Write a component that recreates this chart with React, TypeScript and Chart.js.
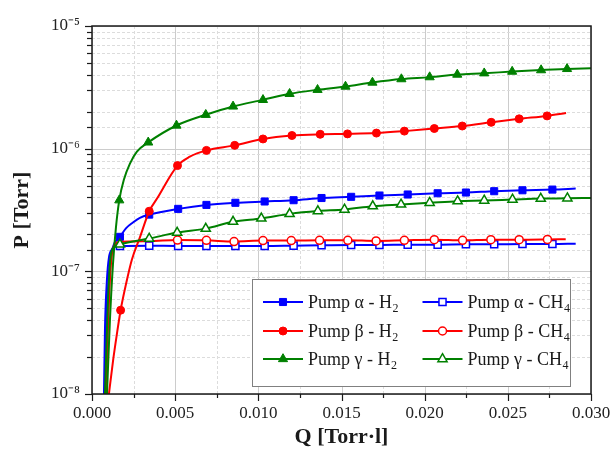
import React, { useEffect, useRef } from 'react';
import { Chart, registerables } from 'chart.js';

Chart.register(...registerables);

const FONT = '"Liberation Serif", "Times New Roman", serif';

// ---- axes ----
const X_MIN = 0;
const X_MAX = 0.03;
const X_STEP = 0.0025;
const Y_MIN = 1e-8;
const Y_MAX = 1e-5;
const X_TITLE = 'Q [Torr·l]';
const Y_TITLE = 'P [Torr]';

// ---- legend labels ----
const labelBase = ['Pump α - H', 'Pump α - CH', 'Pump β - H', 'Pump β - CH', 'Pump γ - H', 'Pump γ - CH'];
const labelSub = ['2', '4', '2', '4', '2', '4'];

// ---- Pump α - H2 ----
const alphaH2LineQ = [0.00078, 0.00084, 0.00096, 0.00108, 0.00132, 0.00204, 0.00246, 0.00288, 0.02908];
const alphaH2LineP = [1.0e-8, 3.4e-8, 7.2e-8, 1.2e-7, 1.66e-7, 2.24e-7, 2.5e-7, 2.73e-7, 4.73e-7];
const alphaH2MarkQ = [0.00168, 0.00344, 0.00518, 0.00688, 0.00862, 0.01038, 0.01212, 0.0138, 0.01558, 0.01728, 0.01898, 0.02078, 0.02248, 0.02418, 0.02588, 0.02768];
const alphaH2MarkP = [1.91e-7, 2.9e-7, 3.23e-7, 3.48e-7, 3.62e-7, 3.71e-7, 3.8e-7, 3.96e-7, 4.05e-7, 4.15e-7, 4.23e-7, 4.33e-7, 4.39e-7, 4.5e-7, 4.58e-7, 4.64e-7];

// ---- Pump α - CH4 ----
const alphaCH4LineQ = [0.00072, 0.00078, 0.0009, 0.00102, 0.0012, 0.00144, 0.02908];
const alphaCH4LineP = [1.0e-8, 3.4e-8, 8.6e-8, 1.3e-7, 1.51e-7, 1.6e-7, 1.68e-7];
const alphaCH4MarkQ = [0.00168, 0.00344, 0.00518, 0.00688, 0.00862, 0.01038, 0.01212, 0.0138, 0.01558, 0.01728, 0.01898, 0.02078, 0.02248, 0.02418, 0.02588, 0.02768];
const alphaCH4MarkP = [1.61e-7, 1.62e-7, 1.61e-7, 1.61e-7, 1.61e-7, 1.61e-7, 1.62e-7, 1.63e-7, 1.64e-7, 1.64e-7, 1.65e-7, 1.65e-7, 1.66e-7, 1.66e-7, 1.67e-7, 1.67e-7];

// ---- Pump β - H2 ----
const betaH2LineQ = [0.00098, 0.00128, 0.00148, 0.00204, 0.0024, 0.00288, 0.0039, 0.00588, 0.0285];
const betaH2LineP = [9.1e-9, 1.93e-8, 2.98e-8, 7.83e-8, 1.25e-7, 1.89e-7, 3.9e-7, 8.6e-7, 1.95e-6];
const betaH2MarkQ = [0.00172, 0.00344, 0.00514, 0.00688, 0.00858, 0.01028, 0.01202, 0.01372, 0.01536, 0.0171, 0.01878, 0.02058, 0.02226, 0.024, 0.02568, 0.02736];
const betaH2MarkP = [4.82e-8, 3.09e-7, 7.28e-7, 9.68e-7, 1.064e-6, 1.2e-6, 1.28e-6, 1.31e-6, 1.32e-6, 1.34e-6, 1.39e-6, 1.46e-6, 1.53e-6, 1.64e-6, 1.75e-6, 1.85e-6];

// ---- Pump β - CH4 ----
const betaCH4LineQ = [0.00084, 0.00096, 0.00108, 0.0012, 0.00138, 0.00168, 0.00342, 0.02848];
const betaCH4LineP = [1.0e-8, 3.4e-8, 8.6e-8, 1.38e-7, 1.66e-7, 1.74e-7, 1.76e-7, 1.83e-7];
const betaCH4MarkQ = [0.00514, 0.00688, 0.00854, 0.01028, 0.01198, 0.01368, 0.01538, 0.01708, 0.01878, 0.02058, 0.02228, 0.02398, 0.02568, 0.02738];
const betaCH4MarkP = [1.8e-7, 1.79e-7, 1.75e-7, 1.78e-7, 1.78e-7, 1.79e-7, 1.79e-7, 1.77e-7, 1.79e-7, 1.81e-7, 1.79e-7, 1.81e-7, 1.81e-7, 1.82e-7];

// ---- Pump γ - H2 ----
const gammaH2LineQ = [0.0009, 0.00108, 0.00126, 0.00144, 0.00192, 0.00228, 0.0027, 0.03];
const gammaH2LineP = [1.0e-8, 4.07e-8, 1.14e-7, 2.28e-7, 5.6e-7, 7.55e-7, 9.46e-7, 4.53e-6];
const gammaH2MarkQ = [0.00164, 0.00338, 0.00508, 0.00684, 0.00848, 0.01028, 0.01188, 0.01356, 0.01524, 0.01686, 0.0186, 0.0203, 0.02196, 0.02358, 0.02526, 0.027, 0.02856];
const gammaH2MarkP = [3.8e-7, 1.125e-6, 1.545e-6, 1.89e-6, 2.21e-6, 2.5e-6, 2.8e-6, 3.02e-6, 3.21e-6, 3.46e-6, 3.69e-6, 3.83e-6, 4.02e-6, 4.12e-6, 4.25e-6, 4.37e-6, 4.47e-6];

// ---- Pump γ - CH4 ----
const gammaCH4LineQ = [0.00078, 0.0009, 0.00102, 0.00114, 0.00138, 0.03];
const gammaCH4LineP = [1.0e-8, 3.4e-8, 8.6e-8, 1.38e-7, 1.6e-7, 3.97e-7];
const gammaCH4MarkQ = [0.00168, 0.00344, 0.00512, 0.00684, 0.00848, 0.01018, 0.01188, 0.01358, 0.01518, 0.01688, 0.01858, 0.0203, 0.02198, 0.02358, 0.02528, 0.02698, 0.02858];
const gammaCH4MarkP = [1.66e-7, 1.85e-7, 2.07e-7, 2.23e-7, 2.54e-7, 2.7e-7, 2.94e-7, 3.1e-7, 3.19e-7, 3.4e-7, 3.51e-7, 3.62e-7, 3.73e-7, 3.78e-7, 3.85e-7, 3.92e-7, 3.94e-7];

// ---- styles ----
const BLUE = '#0000ff';
const RED = '#ff0000';
const GREEN = '#008000';

type Series = {
  lineQ: number[]; lineP: number[]; markQ: number[]; markP: number[];
  color: string; style: 'rect' | 'circle' | 'triangle'; filled: boolean; radius: number;
};

const SERIES: Series[] = [
  { lineQ: alphaH2LineQ, lineP: alphaH2LineP, markQ: alphaH2MarkQ, markP: alphaH2MarkP, color: BLUE, style: 'rect', filled: true, radius: 5 },
  { lineQ: alphaCH4LineQ, lineP: alphaCH4LineP, markQ: alphaCH4MarkQ, markP: alphaCH4MarkP, color: BLUE, style: 'rect', filled: false, radius: 5 },
  { lineQ: betaH2LineQ, lineP: betaH2LineP, markQ: betaH2MarkQ, markP: betaH2MarkP, color: RED, style: 'circle', filled: true, radius: 4 },
  { lineQ: betaCH4LineQ, lineP: betaCH4LineP, markQ: betaCH4MarkQ, markP: betaCH4MarkP, color: RED, style: 'circle', filled: false, radius: 4 },
  { lineQ: gammaH2LineQ, lineP: gammaH2LineP, markQ: gammaH2MarkQ, markP: gammaH2MarkP, color: GREEN, style: 'triangle', filled: true, radius: 5.3 },
  { lineQ: gammaCH4LineQ, lineP: gammaCH4LineP, markQ: gammaCH4MarkQ, markP: gammaCH4MarkP, color: GREEN, style: 'triangle', filled: false, radius: 5.3 },
];

function toPts(q: number[], p: number[]) {
  return q.map((x, i) => ({ x, y: p[i] }));
}

function buildDatasets() {
  const ds: any[] = [];
  SERIES.forEach((s, i) => {
    const line = [...toPts(s.lineQ, s.lineP), ...toPts(s.markQ, s.markP)].sort((a, b) => a.x - b.x);
    const base = (SERIES.length - 1 - i) * 2;
    ds.push({
      data: line,
      borderColor: s.color,
      borderWidth: 2,
      pointRadius: 0,
      showLine: true,
      fill: false,
      cubicInterpolationMode: 'monotone',
      order: base + 1,
    });
    ds.push({
      data: toPts(s.markQ, s.markP),
      showLine: false,
      pointStyle: s.style,
      pointRadius: s.radius,
      pointBackgroundColor: s.filled ? s.color : '#ffffff',
      pointBorderColor: s.color,
      pointBorderWidth: s.filled ? 1 : 1.5,
      order: base,
    });
  });
  return ds;
}

const SUP: Record<string, string> = { '-': '⁻', '0': '⁰', '1': '¹', '2': '²', '3': '³', '4': '⁴', '5': '⁵', '6': '⁶', '7': '⁷', '8': '⁸', '9': '⁹' };
const toSup = (s: string) => s.split('').map((c) => SUP[c] || c).join('');

const isDecade = (v: number) => {
  const e = Math.log10(v);
  return Math.abs(e - Math.round(e)) < 1e-6;
};
const isMajorX = (v: number) => Math.round(v / X_STEP) % 2 === 0;

function drawMarker(ctx: CanvasRenderingContext2D, style: string, x: number, y: number, r: number, color: string, filled: boolean) {
  ctx.beginPath();
  if (style === 'rect') {
    const s = r * Math.SQRT1_2;
    ctx.rect(x - s, y - s, 2 * s, 2 * s);
  } else if (style === 'circle') {
    ctx.arc(x, y, r, 0, Math.PI * 2);
  } else {
    const h = Math.sin(Math.PI / 3) * r;
    ctx.moveTo(x, y - r);
    ctx.lineTo(x + h, y + r / 2);
    ctx.lineTo(x - h, y + r / 2);
    ctx.closePath();
  }
  ctx.fillStyle = filled ? color : '#ffffff';
  ctx.fill();
  ctx.lineWidth = filled ? 1 : 1.5;
  ctx.strokeStyle = color;
  ctx.stroke();
}

const decor = {
  id: 'decor',
  beforeDatasetsDraw(chart: any) {
    const { ctx, chartArea: a } = chart;
    const x = chart.scales.x;
    const y = chart.scales.y;
    ctx.save();
    ctx.lineWidth = 1;
    x.ticks.forEach((t: any) => {
      const px = Math.round(x.getPixelForValue(t.value)) + 0.5;
      const major = isMajorX(t.value);
      ctx.strokeStyle = major ? '#cccccc' : '#dcdcdc';
      ctx.setLineDash(major ? [] : [3, 2]);
      ctx.beginPath();
      ctx.moveTo(px, a.top);
      ctx.lineTo(px, a.bottom);
      ctx.stroke();
    });
    y.ticks.forEach((t: any) => {
      const py = Math.round(y.getPixelForValue(t.value)) + 0.5;
      const major = isDecade(t.value);
      ctx.strokeStyle = major ? '#cccccc' : '#dcdcdc';
      ctx.setLineDash(major ? [] : [3, 2]);
      ctx.beginPath();
      ctx.moveTo(a.left, py);
      ctx.lineTo(a.right, py);
      ctx.stroke();
    });
    ctx.restore();
  },
  afterDraw(chart: any) {
    const { ctx, chartArea: a } = chart;
    const x = chart.scales.x;
    const y = chart.scales.y;
    ctx.save();
    // frame
    ctx.strokeStyle = '#1a1a1a';
    ctx.lineWidth = 1.5;
    ctx.setLineDash([]);
    ctx.strokeRect(a.left, a.top, a.right - a.left, a.bottom - a.top);
    // ticks
    ctx.lineWidth = 1.2;
    x.ticks.forEach((t: any) => {
      const px = Math.round(x.getPixelForValue(t.value)) + 0.5;
      const len = isMajorX(t.value) ? 7 : 4;
      ctx.beginPath();
      ctx.moveTo(px, a.bottom);
      ctx.lineTo(px, a.bottom + len);
      ctx.stroke();
    });
    y.ticks.forEach((t: any) => {
      const py = Math.round(y.getPixelForValue(t.value)) + 0.5;
      const len = isDecade(t.value) ? 7 : 5;
      ctx.beginPath();
      ctx.moveTo(a.left, py);
      ctx.lineTo(a.left - len, py);
      ctx.stroke();
    });
    // axis titles
    ctx.fillStyle = '#1a1a1a';
    ctx.font = `bold 22px ${FONT}`;
    ctx.textAlign = 'center';
    ctx.textBaseline = 'middle';
    ctx.fillText(X_TITLE, (a.left + a.right) / 2, 437);
    ctx.save();
    ctx.translate(22, (a.top + a.bottom) / 2);
    ctx.rotate(-Math.PI / 2);
    ctx.fillText(Y_TITLE, 0, 0);
    ctx.restore();

    // legend
    const L = { x: 252, y: 279, w: 318, h: 107 };
    ctx.fillStyle = '#ffffff';
    ctx.fillRect(L.x, L.y, L.w, L.h);
    ctx.strokeStyle = '#808080';
    ctx.lineWidth = 1;
    ctx.strokeRect(L.x + 0.5, L.y + 0.5, L.w, L.h);
    const rowsY = [302, 331, 359];
    const colsX = [252, 411.5];
    SERIES.forEach((s, i) => {
      const row = Math.floor(i / 2);
      const col = i % 2;
      const cy = rowsY[row];
      const cx = colsX[col];
      ctx.strokeStyle = s.color;
      ctx.lineWidth = 2;
      ctx.beginPath();
      ctx.moveTo(cx + 11, cy);
      ctx.lineTo(cx + 51, cy);
      ctx.stroke();
      drawMarker(ctx, s.style, cx + 31, cy, s.radius, s.color, s.filled);
      ctx.fillStyle = '#1a1a1a';
      ctx.textAlign = 'left';
      ctx.textBaseline = 'middle';
      ctx.font = `18px ${FONT}`;
      const tx = cx + 56;
      ctx.fillText(labelBase[i], tx, cy + 1);
      const w = ctx.measureText(labelBase[i]).width;
      ctx.font = `12px ${FONT}`;
      ctx.fillText(labelSub[i], tx + w + 0.5, cy + 7);
    });
    ctx.restore();
  },
};

export default function App() {
  const ref = useRef<HTMLCanvasElement>(null);
  useEffect(() => {
    if (!ref.current) return;
    const chart = new Chart(ref.current, {
      type: 'scatter',
      data: { datasets: buildDatasets() },
      options: {
        animation: false,
        responsive: false,
        maintainAspectRatio: false,
        layout: { padding: { top: 26, right: 20, left: 0, bottom: 0 } },
        plugins: { legend: { display: false }, tooltip: { enabled: false } },
        scales: {
          x: {
            type: 'linear',
            min: X_MIN,
            max: X_MAX,
            afterFit: (s: any) => {
              s.height = 67;
              s.paddingLeft = 0;
              s.paddingRight = 0;
            },
            grid: { display: false, drawTicks: false },
            border: { display: false },
            ticks: {
              stepSize: X_STEP,
              autoSkip: false,
              maxRotation: 0,
              padding: 9,
              color: '#222',
              font: { family: FONT, size: 17 },
              callback: (v: any) => (isMajorX(Number(v)) ? Number(v).toFixed(3) : ''),
            },
          },
          y: {
            type: 'logarithmic',
            min: Y_MIN,
            max: Y_MAX,
            afterFit: (s: any) => {
              s.width = 92;
              s.paddingTop = 0;
              s.paddingBottom = 0;
            },
            grid: { display: false, drawTicks: false },
            border: { display: false },
            ticks: {
              autoSkip: false,
              padding: 12,
              color: '#222',
              font: { family: FONT, size: 17 },
              callback: (v: any) => {
                const n = Number(v);
                if (!isDecade(n)) return '';
                return '10' + toSup(String(Math.round(Math.log10(n))));
              },
            },
          },
        },
      },
      plugins: [decor],
    } as any);
    return () => chart.destroy();
  }, []);
  return (
    <div style={{ position: 'absolute', left: 0, top: 0, width: 611, height: 461, background: '#fff' }}>
      <canvas ref={ref} width={611} height={461} style={{ display: 'block', width: 611, height: 461 }} />
    </div>
  );
}
